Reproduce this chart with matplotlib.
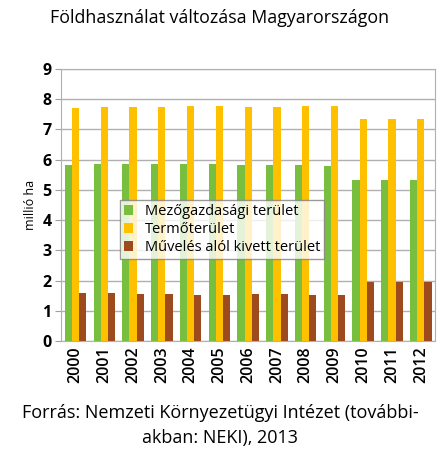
import numpy as np
import matplotlib
matplotlib.use("Agg")
import matplotlib.pyplot as plt

plt.rcParams['font.family'] = ['Open Sans', 'DejaVu Sans']

years = ['2000', '2001', '2002', '2003', '2004', '2005', '2006',
         '2007', '2008', '2009', '2010', '2011', '2012']
mezogazdasagi = [5.83, 5.86, 5.86, 5.86, 5.86, 5.84, 5.81, 5.81, 5.81, 5.79, 5.34, 5.33, 5.34]
termoterulet = [7.71, 7.73, 7.75, 7.75, 7.78, 7.79, 7.75, 7.75, 7.78, 7.78, 7.36, 7.36, 7.36]
kivett = [1.59, 1.58, 1.56, 1.54, 1.52, 1.52, 1.55, 1.55, 1.52, 1.52, 1.95, 1.95, 1.94]

labels = ['Mezőgazdasági terület', 'Termőterület', 'Művelés alól kivett terület']
colors = ['#78BF3F', '#FFC000', '#9C4A1E']

fig = plt.figure(figsize=(4.4, 4.54), dpi=100)
ax = fig.add_axes([0.139, 0.249, 0.85, 0.599])

x = np.arange(len(years))
w = 0.25
for i, (vals, lab, col) in enumerate(zip([mezogazdasagi, termoterulet, kivett], labels, colors)):
    ax.bar(x + (i - 1) * w, vals, w, color=col, label=lab, zorder=3)

ax.set_ylim(0, 9)
ax.set_xlim(-0.5, len(years) - 0.5)
ax.set_yticks(range(10))
ax.set_yticklabels([str(v) for v in range(10)], fontsize=11.5, fontweight='bold')
ax.set_xticks(x)
ax.set_xticklabels(years, rotation=90, fontsize=11.5, fontweight='semibold')
ax.tick_params(axis='both', length=0, pad=4)
ax.tick_params(axis='y', length=4, color='#a0a0a0', pad=3)
ax.grid(axis='y', color='#b0b0b0', linewidth=1, zorder=0)
for s in ax.spines.values():
    s.set_color('#b0b0b0')
ax.set_ylabel('millió ha', fontsize=9, labelpad=4)

leg = ax.legend(loc='upper left', bbox_to_anchor=(0.157, 0.52), fontsize=10.5,
                frameon=True, fancybox=False, edgecolor='#808080',
                handlelength=0.6, handleheight=0.7, handletextpad=0.8,
                labelspacing=0.2, borderpad=0.3, borderaxespad=0)
leg.get_frame().set_linewidth(1)

fig.text(0.5, 0.96, 'Földhasználat változása Magyarországon', ha='center', va='center', fontsize=12.8)
fig.text(0.5, 0.09, 'Forrás: Nemzeti Környezetügyi Intézet (további-', ha='center', va='center', fontsize=13)
fig.text(0.5, 0.035, 'akban: NEKI), 2013', ha='center', va='center', fontsize=13)

fig.savefig('out.png', dpi=100)
